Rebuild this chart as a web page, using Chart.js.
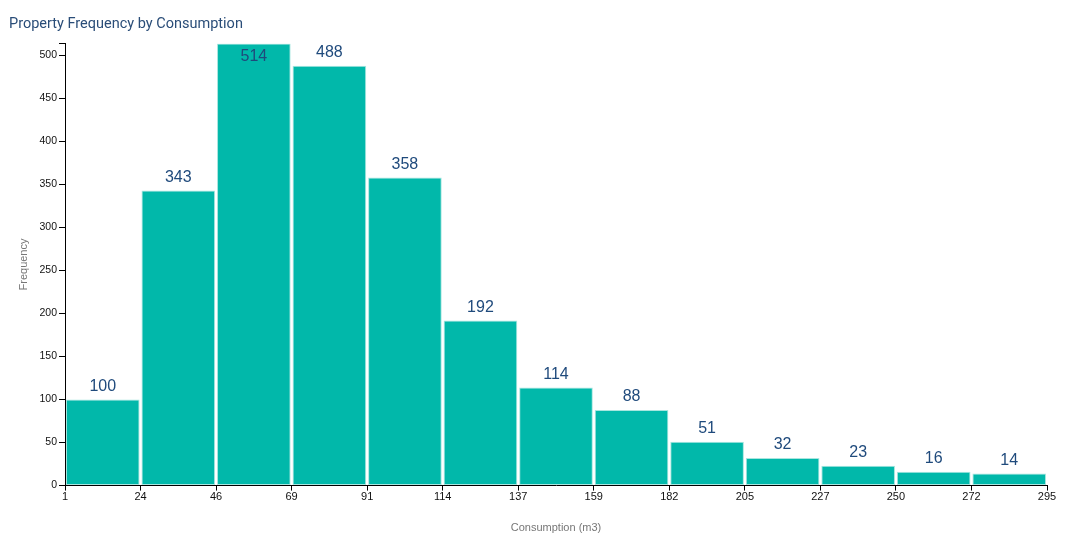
<!DOCTYPE html>
<html>
<head>
<meta charset="utf-8">
<script src="https://cdn.jsdelivr.net/npm/chart.js@4"></script>
<style>
    html, body { margin: 0; padding: 0; background: #fff; }
    #wrap { width: 1073px; height: 545px; }
</style>
</head>
<body>
<div id="wrap"><canvas id="histChart"></canvas></div>
<script>
const binEdges = [1, 24, 46, 69, 91, 114, 137, 159, 182, 205, 227, 250, 272, 295];
const frequencies = [100, 343, 514, 488, 358, 192, 114, 88, 51, 32, 23, 16, 14];
const yTickValues = [0, 50, 100, 150, 200, 250, 300, 350, 400, 450, 500];
const binLabels = frequencies.map((_, i) => binEdges[i] + '-' + binEdges[i + 1]);

const barColor = '#01b8aa';
const labelColor = '#1f4a7c';
const maxFreq = Math.max(...frequencies);

// value labels above each bar, pushed inside when there is no room on top
const barLabels = {
    id: 'barLabels',
    afterDatasetsDraw(chart) {
        const { ctx, chartArea } = chart;
        const meta = chart.getDatasetMeta(0);
        ctx.save();
        ctx.font = '16px "Liberation Sans", Arial, sans-serif';
        ctx.fillStyle = labelColor;
        ctx.textAlign = 'center';
        ctx.textBaseline = 'middle';
        meta.data.forEach((bar, i) => {
            let y = bar.y - 13;
            if (y - 8 < chartArea.top) y = bar.y + 13;
            ctx.fillText(frequencies[i], bar.x, y);
        });
        ctx.restore();
    }
};

const ctx = document.getElementById('histChart').getContext('2d');

const myChart = new Chart(ctx, {
    type: 'bar',
    data: {
        labels: binLabels,
        datasets: [{
            label: 'Frequency',
            data: frequencies,
            backgroundColor: barColor,
            borderColor: '#a8e6df',
            borderWidth: 1,
            borderSkipped: false,
            barPercentage: 0.975,
            categoryPercentage: 1
        }]
    },
    options: {
        responsive: true,
        maintainAspectRatio: false,
        animation: false,
        layout: { padding: { left: 9, right: 26, top: 12, bottom: 10 } },
        plugins: {
            legend: { display: false },
            tooltip: { enabled: false },
            title: {
                display: true,
                text: 'Property Frequency by Consumption',
                align: 'start',
                color: '#2a4d78',
                font: { family: 'Roboto, sans-serif', size: 14.5, weight: 'normal' },
                padding: { top: 4, bottom: 10 }
            }
        },
        scales: {
            x: {
                display: false
            },
            edges: {
                type: 'linear',
                position: 'bottom',
                min: 0,
                max: frequencies.length,
                offset: false,
                grid: {
                    offset: false,
                    drawOnChartArea: false,
                    drawTicks: true,
                    tickLength: 5,
                    tickColor: '#000'
                },
                border: { color: '#000', width: 1 },
                ticks: {
                    stepSize: 1,
                    autoSkip: false,
                    maxRotation: 0,
                    padding: 0,
                    color: '#111',
                    font: { family: '"Liberation Sans", Arial, sans-serif', size: 11 },
                    callback: (v) => binEdges[v]
                },
                title: {
                    display: true,
                    text: 'Consumption (m3)',
                    color: '#777',
                    font: { family: '"Liberation Sans", Arial, sans-serif', size: 11 },
                    padding: { top: 18, bottom: 0 }
                }
            },
            y: {
                min: 0,
                max: maxFreq,
                grid: {
                    drawOnChartArea: false,
                    drawTicks: true,
                    tickLength: 6,
                    tickColor: '#000'
                },
                border: { color: '#000', width: 1 },
                ticks: {
                    autoSkip: false,
                    padding: 2,
                    color: '#111',
                    font: { family: '"Liberation Sans", Arial, sans-serif', size: 10.5 },
                    callback: (v) => yTickValues.includes(v) ? v : ''
                },
                afterBuildTicks: (scale) => {
                    scale.ticks = yTickValues.map(v => ({ value: v }));
                    scale.ticks.push({ value: maxFreq });
                },
                afterFit: (scale) => { scale.width = 56; },
                title: {
                    display: true,
                    text: 'Frequency',
                    color: '#777',
                    font: { family: '"Liberation Sans", Arial, sans-serif', size: 11 },
                    padding: { top: 8, bottom: 0 }
                }
            }
        }
    },
    plugins: [barLabels]
});
</script>
</body>
</html>
